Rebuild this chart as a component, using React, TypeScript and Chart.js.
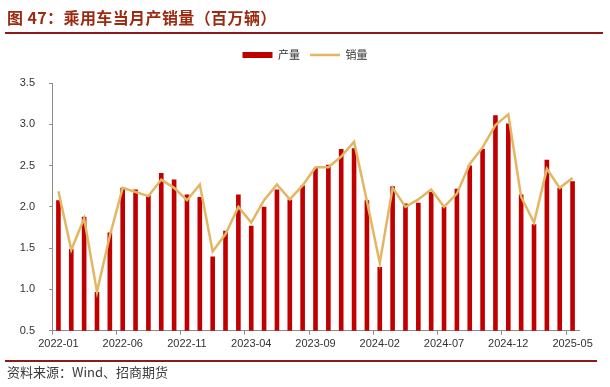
import React, { useEffect, useRef } from 'react';
import { Chart, registerables } from 'chart.js';

Chart.register(...registerables);

const months = [
  '2022-01', '2022-02', '2022-03', '2022-04', '2022-05', '2022-06', '2022-07', '2022-08', '2022-09', '2022-10', '2022-11', '2022-12',
  '2023-01', '2023-02', '2023-03', '2023-04', '2023-05', '2023-06', '2023-07', '2023-08', '2023-09', '2023-10', '2023-11', '2023-12',
  '2024-01', '2024-02', '2024-03', '2024-04', '2024-05', '2024-06', '2024-07', '2024-08', '2024-09', '2024-10', '2024-11', '2024-12',
  '2025-01', '2025-02', '2025-03', '2025-04', '2025-05',
];

const production = [
  2.08, 1.49, 1.88, 0.97, 1.69, 2.23, 2.21, 2.14, 2.41, 2.33, 2.15, 2.12,
  1.40, 1.71, 2.15, 1.77, 2.00, 2.21, 2.09, 2.26, 2.47, 2.51, 2.70, 2.71,
  2.08, 1.27, 2.25, 2.04, 2.05, 2.18, 2.00, 2.22, 2.50, 2.70, 3.11, 3.01,
  2.15, 1.79, 2.57, 2.23, 2.31,
];

const sales = [
  2.19, 1.48, 1.86, 0.97, 1.65, 2.23, 2.18, 2.13, 2.33, 2.23, 2.08, 2.27,
  1.46, 1.67, 2.00, 1.81, 2.08, 2.27, 2.09, 2.26, 2.48, 2.48, 2.61, 2.79,
  2.07, 1.32, 2.23, 2.00, 2.09, 2.21, 2.00, 2.16, 2.52, 2.72, 2.99, 3.12,
  2.12, 1.81, 2.46, 2.23, 2.35,
];

const seriesNames = ['产量', '销量'];
const yMin = 0.5;
const yMax = 3.5;
const yStep = 0.5;
const labelEvery = 5;

const BAR_COLOR = '#C00000';
const LINE_COLOR = '#E2B662';
const AXIS_COLOR = '#8c8c8c';
const TEXT_COLOR = '#333333';

export default function App() {
  const ref = useRef<HTMLCanvasElement>(null);

  useEffect(() => {
    if (!ref.current) return;
    const legendSpacer = {
      id: 'legendSpacer',
      beforeLayout(chart: any) {
        const lg = chart.legend;
        if (lg && !lg._spacerPatched) {
          const orig = lg.fit;
          lg.fit = function () {
            orig.call(this);
            this.height += 12.5;
          };
          lg._spacerPatched = true;
        }
      },
    };

    const chart = new Chart(ref.current, {
      type: 'bar',
      data: {
        labels: months,
        datasets: [
          {
            type: 'bar',
            label: seriesNames[0],
            data: production,
            backgroundColor: BAR_COLOR,
            barPercentage: 0.36,
            categoryPercentage: 1,
            order: 1,
          } as any,
          {
            type: 'line',
            label: seriesNames[1],
            data: sales,
            borderColor: LINE_COLOR,
            backgroundColor: LINE_COLOR,
            borderWidth: 2.5,
            pointRadius: 0,
            tension: 0,
            fill: false,
            order: 0,
          } as any,
        ],
      },
      options: {
        animation: false,
        responsive: false,
        devicePixelRatio: 1,
        layout: { padding: { top: 39.5, left: 0, right: 0, bottom: 25 } },
        plugins: {
          tooltip: { enabled: false },
          title: { display: false },
          legend: {
            display: true,
            position: 'top',
            align: 'center',
            labels: {
              usePointStyle: true,
              pointStyleWidth: 30,
              boxHeight: 6,
              padding: 10,
              color: TEXT_COLOR,
              font: { family: 'Noto Sans CJK SC', size: 11 },
              generateLabels: () => [
                {
                  text: seriesNames[0],
                  fillStyle: BAR_COLOR,
                  strokeStyle: BAR_COLOR,
                  lineWidth: 0,
                  pointStyle: 'rect',
                  hidden: false,
                  datasetIndex: 0,
                  fontColor: TEXT_COLOR,
                },
                {
                  text: seriesNames[1],
                  fillStyle: LINE_COLOR,
                  strokeStyle: LINE_COLOR,
                  lineWidth: 2.5,
                  pointStyle: 'line',
                  hidden: false,
                  datasetIndex: 1,
                  fontColor: TEXT_COLOR,
                },
              ],
            },
          } as any,
        },
        scales: {
          x: {
            offset: true,
            grid: {
              display: true,
              drawOnChartArea: false,
              drawTicks: true,
              tickLength: 4,
              offset: true,
              lineWidth: 1,
              color: (ctx: any) =>
                typeof ctx.index === 'number' && ctx.index % labelEvery === 0 ? AXIS_COLOR : 'rgba(0,0,0,0)',
            },
            border: { display: true, color: AXIS_COLOR, width: 1 },
            ticks: {
              autoSkip: false,
              maxRotation: 0,
              minRotation: 0,
              padding: 3,
              color: TEXT_COLOR,
              font: { family: 'Liberation Sans', size: 11 },
              callback: (_v: any, i: number) => (i % labelEvery === 0 ? months[i] : ''),
            },
            afterFit: (s: any) => {
              s.height = 31.3;
            },
          },
          y: {
            min: yMin,
            max: yMax,
            grid: { display: true, drawOnChartArea: false, drawTicks: true, tickLength: 3, color: AXIS_COLOR },
            border: { display: true, color: AXIS_COLOR, width: 1 },
            ticks: {
              stepSize: yStep,
              padding: 14,
              color: TEXT_COLOR,
              font: { family: 'Liberation Sans', size: 11 },
              callback: (v: any) => Number(v).toFixed(1),
            },
            afterFit: (s: any) => {
              s.width = 52;
            },
          },
          yR: {
            position: 'right',
            display: true,
            grid: { display: false },
            border: { display: false },
            ticks: { display: false },
            afterFit: (s: any) => {
              s.width = 31;
            },
          },
        },
      } as any,
      plugins: [legendSpacer],
    });
    return () => chart.destroy();
  }, []);

  return (
    <div
      style={{
        position: 'absolute',
        left: 0,
        top: 0,
        width: 610,
        height: 387,
        background: '#ffffff',
        overflow: 'hidden',
      }}
    >
      <canvas ref={ref} width={610} height={387} style={{ position: 'absolute', left: 0, top: 0, width: 610, height: 387 }} />
      <div
        style={{
          position: 'absolute',
          left: 7,
          top: 7,
          height: 21,
          lineHeight: '21px',
          fontFamily: '"Noto Sans CJK SC", sans-serif',
          fontWeight: 700,
          fontSize: 16,
          letterSpacing: 0.4,
          color: '#9C2A10',
          whiteSpace: 'nowrap',
        }}
      >
        图 47：乘用车当月产销量（百万辆）
      </div>
      <div style={{ position: 'absolute', left: 5, top: 32, width: 598, height: 1.5, background: '#8B1A1A' }} />
      <div style={{ position: 'absolute', left: 5, top: 360, width: 592, height: 2, background: '#8B1A1A' }} />
      <div
        style={{
          position: 'absolute',
          left: 7,
          top: 363,
          height: 18,
          lineHeight: '18px',
          fontFamily: '"Noto Sans CJK SC", sans-serif',
          fontSize: 13,
          color: '#3a3a3a',
          whiteSpace: 'nowrap',
        }}
      >
        资料来源：Wind、招商期货
      </div>
    </div>
  );
}
